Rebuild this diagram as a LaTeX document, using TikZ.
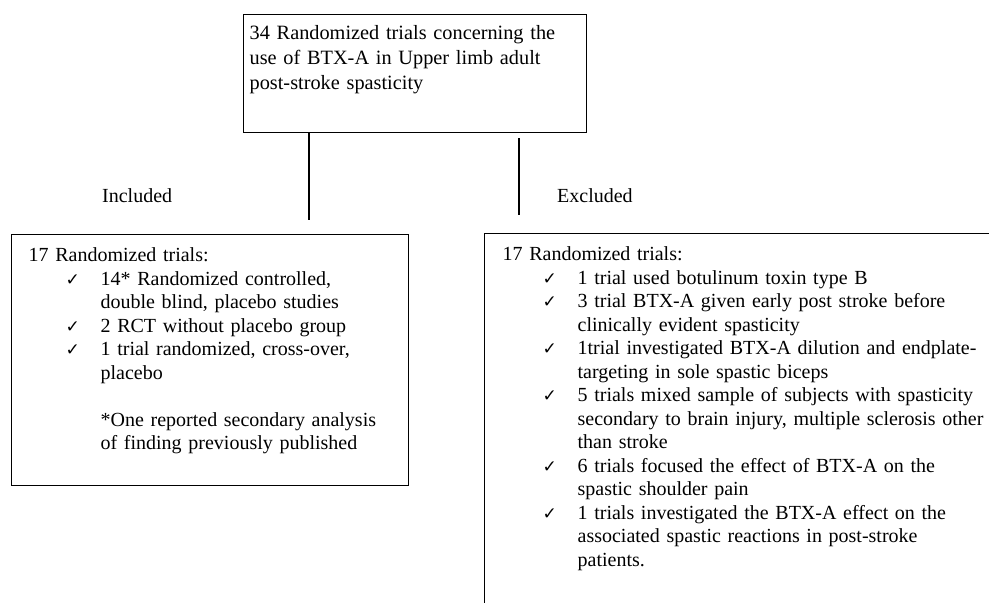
\documentclass[tikz,border=0pt]{standalone}
\usepackage{fontspec}
\setmainfont{Liberation Serif}
\newfontfamily\tickfont{DejaVu Sans}

\newlength\tickgap
\newlength\itemgap
\newcommand{\tickmark}{{\tickfont\fontsize{17}{17}\selectfont ✓}}
\newcommand{\tick}[1]{\par\leftskip=\itemgap\noindent\hspace*{-\itemgap}\makebox[\itemgap][l]{\hspace*{\tickgap}\tickmark}#1}

\begin{document}
\begin{tikzpicture}[x=1pt,y=-1pt,font=\fontsize{20}{23.5}\selectfont,
	box/.style={draw,line width=1.3pt,anchor=north west,inner ysep=0pt,align=left},
	tag/.style={anchor=base west,inner sep=0pt},
	link/.style={line width=1.3pt}]
	\useasboundingbox (0,0) rectangle (989,603);
	\clip (0,0) rectangle (989,603);

	\node[box,font=\fontsize{20.3}{25}\selectfont,inner xsep=6pt,text width=331pt,text height=25pt,text depth=93pt] (top) at (243,14)
		{34 Randomized trials concerning the\\ use of BTX-A in Upper limb adult\\ post-stroke spasticity};

	\node[box,inner xsep=17pt,text width=363pt,text height=27pt,text depth=224pt] (incl) at (11,234)
		{\setlength\tickgap{37pt}\setlength\itemgap{72pt}17 Randomized trials:
		\tick{14* Randomized controlled,\\ double blind, placebo studies}
		\tick{2 RCT without placebo group}
		\tick{1 trial randomized, cross-over,\\ placebo}
		\par\vspace{23.5pt}*One reported secondary analysis\\ of finding previously published\par};

	\node[box,inner xsep=18pt,text width=520pt,text height=27pt,text depth=400pt] (excl) at (484,233)
		{\setlength\tickgap{40pt}\setlength\itemgap{75pt}17 Randomized trials:
		\tick{1 trial used botulinum toxin type B}
		\tick{3 trial BTX-A given early post stroke before\\ clinically evident spasticity}
		\tick{1trial investigated BTX-A dilution and endplate-\\ targeting in sole spastic biceps}
		\tick{5 trials mixed sample of subjects with spasticity\\ secondary to brain injury, multiple sclerosis other\\ than stroke}
		\tick{6 trials focused the effect of BTX-A on the\\ spastic shoulder pain}
		\tick{1 trials investigated the BTX-A effect on the\\ associated spastic reactions in post-stroke\\ patients.}\par};

	\node[tag] (inclab) at (102,202) {Included};
	\node[tag] (exclab) at (557,202) {Excluded};

	\coordinate (incEnd) at (309,220);
	\coordinate (excStart) at (519,138);
	\coordinate (excEnd) at (519,215);
	\draw[link] (top.south -| incEnd) -- (incEnd);
	\draw[link] (excStart) -- (excEnd);
\end{tikzpicture}
\end{document}
